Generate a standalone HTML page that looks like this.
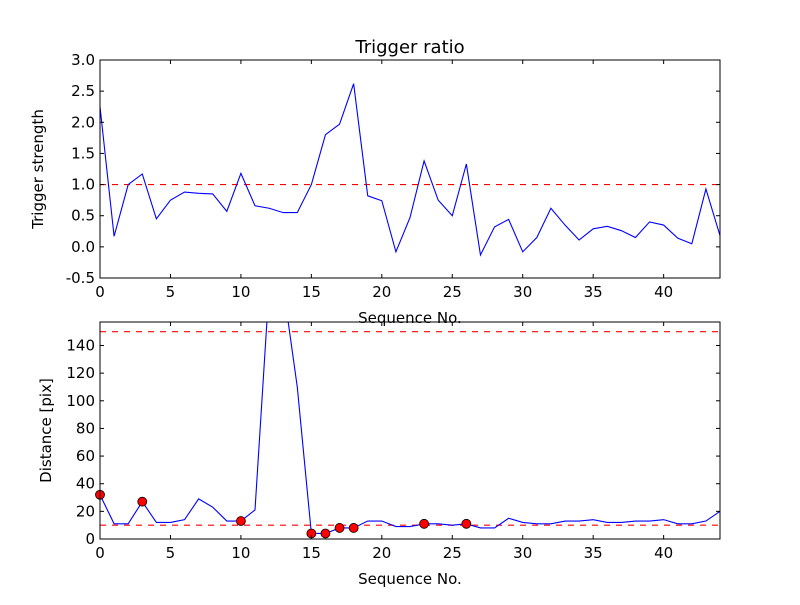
<!DOCTYPE html>
<html><head><meta charset="utf-8"><style>
body{margin:0;background:#fff;}
svg text{font-family:"DejaVu Sans","Liberation Sans",sans-serif;}
</style></head><body>
<svg id="c" width="800" height="600" xmlns="http://www.w3.org/2000/svg">
<rect width="800" height="600" fill="#fff"/>
</svg>
<script>
const seq = Array.from({length:45},(_,i)=>i);
const ratioValues = [2.25,0.17,1.0,1.17,0.45,0.75,0.88,0.86,0.85,0.57,1.18,0.66,0.62,0.55,0.55,1.0,1.8,1.97,2.62,0.82,0.74,-0.08,0.47,1.38,0.75,0.5,1.33,-0.13,0.32,0.44,-0.08,0.15,0.62,0.35,0.11,0.29,0.33,0.26,0.15,0.4,0.35,0.14,0.05,0.93,0.18];
const distValues = [32,11,11,27,12,12,14,29,23,13,13,21,182,183,110,4,4,8,8,13,13,9,9,11,11,10,11,8,8,15,12,11,11,13,13,14,12,12,13,13,14,11,11,13,20];
const markedIdx = [0,3,10,15,16,17,18,23,26];
const ratioTicks = [-0.5,0.0,0.5,1.0,1.5,2.0,2.5,3.0];
const distTicks = [0,20,40,60,80,100,120,140];
const xTicks = [0,5,10,15,20,25,30,35,40];
const ratioThreshold = [1.0];
const distThresholds = [10,150];

const NS="http://www.w3.org/2000/svg";
const svg=document.getElementById('c');
function mk(tag,attrs,parent){const e=document.createElementNS(NS,tag);for(const k in attrs)e.setAttribute(k,attrs[k]);(parent||svg).appendChild(e);return e;}

function panel(o){
  const g=mk('g',{});
  
  
  const X=v=>o.x0+(v-0)/44*(o.x1-o.x0);
  const Y=v=>o.y1-(v-o.ymin)/(o.ymax-o.ymin)*(o.y1-o.y0);
  const cp='clip-'+o.name;
  const cl=mk('clipPath',{id:cp},g);mk('rect',{x:o.x0,y:o.y0,width:o.x1-o.x0,height:o.y1-o.y0},cl);
  const inner=mk('g',{'clip-path':`url(#${cp})`},g);
  o.thr.forEach(t=>{const l=mk('line',{x1:o.x0,x2:o.x1,y1:Y(t),y2:Y(t),stroke:'#ff0000','stroke-width':1.2,'stroke-dasharray':'6,6'},inner);
    
    });
  const p=mk('polyline',{points:o.vals.map((v,i)=>X(seq[i])+','+Y(v)).join(' '),fill:'none',stroke:'#0000ff','stroke-width':1.1},inner);
  
  
  (o.marks||[]).forEach(i=>{const c=mk('circle',{cx:X(seq[i]),cy:Y(o.vals[i]),r:4.5,fill:'#ff0000',stroke:'#000','stroke-width':0.8},g);
    
    });
  mk('rect',{x:o.x0,y:o.y0,width:o.x1-o.x0,height:o.y1-o.y0,fill:'none',stroke:'#000','stroke-width':1},g);
  xTicks.forEach(t=>{const x=X(t);
    mk('line',{x1:x,x2:x,y1:o.y1,y2:o.y1-4,stroke:'#000'},g);mk('line',{x1:x,x2:x,y1:o.y0,y2:o.y0+4,stroke:'#000'},g);
    const tx=mk('text',{x:x,y:o.y1+19,'text-anchor':'middle','font-size':15},g);tx.textContent=t;
    
    });
  o.yt.forEach(t=>{const y=Y(t);
    mk('line',{x1:o.x0,x2:o.x0+4,y1:y,y2:y,stroke:'#000'},g);mk('line',{x1:o.x1,x2:o.x1-4,y1:y,y2:y,stroke:'#000'},g);
    const tx=mk('text',{x:o.x0-5,y:y+5,'text-anchor':'end','font-size':15},g);tx.textContent=o.fmt(t);
    
    });
  const xl=mk('text',{x:(o.x0+o.x1)/2,y:o.y1+45,'text-anchor':'middle','font-size':15},g);xl.textContent='Sequence No.';
  
  
  const yl=mk('text',{x:0,y:0,'text-anchor':'middle','font-size':15,transform:`translate(${o.ylx},${(o.y0+o.y1)/2}) rotate(-90)`},g);yl.textContent=o.ylabel;
  
  
  if(o.title){const tt=mk('text',{x:(o.x0+o.x1)/2,y:o.y0-7,'text-anchor':'middle','font-size':18},g);tt.textContent=o.title;
    
    }
}
panel({name:'ratio-panel',x0:100,x1:720,y0:60,y1:278,ymin:-0.5,ymax:3.0,vals:ratioValues,thr:ratioThreshold,yt:ratioTicks,fmt:t=>t.toFixed(1),ylabel:'Trigger strength',ylx:43,title:'Trigger ratio'});
panel({name:'distance-panel',x0:100,x1:720,y0:322,y1:539,ymin:0,ymax:157,vals:distValues,thr:distThresholds,yt:distTicks,fmt:t=>String(t),ylabel:'Distance [pix]',ylx:51,marks:markedIdx});
</script>
</body></html>
